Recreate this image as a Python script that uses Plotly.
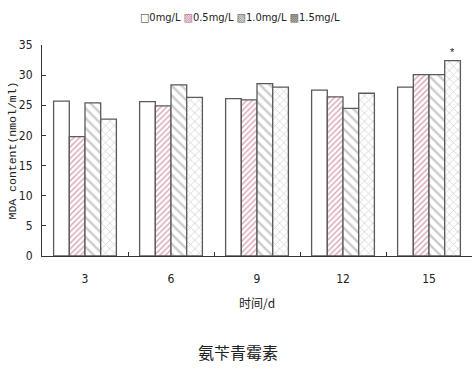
import plotly.graph_objects as go

# Sampling day and MDA content for each ampicillin concentration
days = ["3", "6", "9", "12", "15"]
series_names = ["0mg/L", "0.5mg/L", "1.0mg/L", "1.5mg/L"]
mda_0 = [25.7, 25.6, 26.1, 27.5, 28.0]
mda_05 = [19.8, 24.9, 25.9, 26.4, 30.1]
mda_10 = [25.4, 28.4, 28.6, 24.5, 30.1]
mda_15 = [22.7, 26.3, 28.0, 27.0, 32.4]
y_ticks = [0, 5, 10, 15, 20, 25, 30, 35]

values = [mda_0, mda_05, mda_10, mda_15]
styles = [
    dict(pattern=dict(shape=""), glyph="□", glyph_color="#333"),
    dict(pattern=dict(shape="/", fgcolor="#b2456e", size=4, solidity=0.35),
         glyph="▨", glyph_color="#b86a8a"),
    dict(pattern=dict(shape="\\", fgcolor="#9a9a9a", size=7, solidity=0.35),
         glyph="▧", glyph_color="#666"),
    dict(pattern=dict(shape="x", fgcolor="#a8a8a8", size=6, solidity=0.25),
         glyph="▩", glyph_color="#666"),
]

fig = go.Figure()
for name, vals, st in zip(series_names, values, styles):
    fig.add_trace(go.Bar(
        x=days, y=vals, name=name, showlegend=False,
        marker=dict(color="white", pattern=st["pattern"],
                    line=dict(color="#5a5a5a", width=1.3)),
    ))

label_font = dict(family="DejaVu Sans Condensed, Liberation Sans Narrow, sans-serif",
                  size=12, color="#222")

fig.update_layout(
    width=473, height=381,
    margin=dict(l=42, r=1, t=45, b=125),
    paper_bgcolor="white", plot_bgcolor="white",
    barmode="group", bargap=0.27, bargroupgap=0,
    showlegend=False,
    font=label_font,
)

fig.update_xaxes(
    type="category", range=[-0.5, len(days) - 0.5],
    showline=True, linecolor="#333", linewidth=1,
    ticks="inside", ticklen=4, tickcolor="#333", tickson="boundaries",
    tickfont=label_font, ticklabelstandoff=12, showgrid=False, zeroline=False,
    title=dict(text="时间/d", font=dict(family="Noto Sans CJK SC", size=12, color="#222"),
               standoff=14),
)
fig.update_yaxes(
    range=[0, 35], tickvals=y_ticks, showline=True, linecolor="#333", linewidth=1,
    ticks="inside", ticklen=4, tickcolor="#333", tickfont=label_font,
    ticklabelstandoff=6, showgrid=False, zeroline=False,
)

# Compact key line: a symbol glyph in front of every series name
key_text = " ".join(
    f'<span style="color:{st["glyph_color"]}">{st["glyph"]}</span>{name}'
    for name, st in zip(series_names, styles)
)
fig.add_annotation(
    text=key_text, xref="paper", yref="paper", x=0.46, y=1, yshift=28,
    xanchor="center", yanchor="middle", showarrow=False,
    font=dict(family="DejaVu Sans Condensed, sans-serif", size=11, color="#222"),
)

# Vertical axis title
fig.add_annotation(
    text="MDA content(nmol/ml)", textangle=-90,
    xref="paper", yref="paper", x=0, y=0.5, xshift=-30,
    xanchor="center", yanchor="middle", showarrow=False,
    font=dict(family="Liberation Mono, DejaVu Sans Mono, monospace", size=11.5, color="#222"),
)

# Significance marker above the 1.5mg/L bar on day 15
fig.add_annotation(
    text="*", x=days.index("15"), y=mda_15[-1], xref="x", yref="y",
    xshift=23, yshift=9, showarrow=False,
    font=dict(family="Liberation Sans, sans-serif", size=11, color="#222"),
)

# Caption below the chart
fig.add_annotation(
    text="氨苄青霉素", xref="paper", yref="paper", x=0.455, y=0,
    yshift=-96, xanchor="center", yanchor="middle", showarrow=False,
    font=dict(family="Noto Sans CJK SC", size=16, color="#222"),
)

fig.write_html("out.html")
